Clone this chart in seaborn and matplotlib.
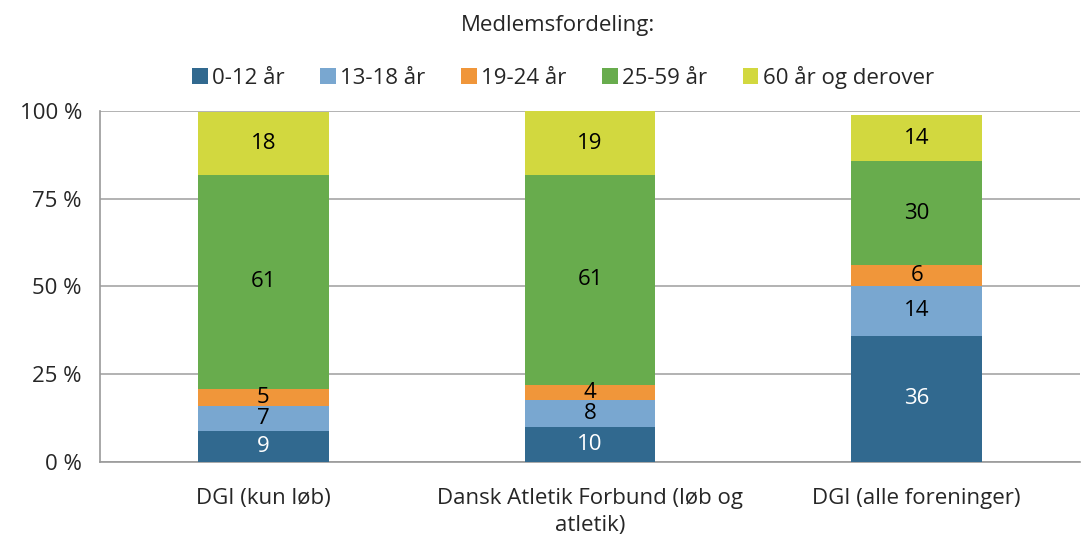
import numpy as np
import pandas as pd
import matplotlib
matplotlib.use("Agg")
import matplotlib.pyplot as plt
import seaborn as sns
from matplotlib.patches import Patch
from matplotlib.ticker import FixedLocator

# data (share of members, percent)
categories = ["DGI (kun løb)", "Dansk Atletik Forbund (løb og\natletik)", "DGI (alle foreninger)"]
age_groups = ["0-12 år", "13-18 år", "19-24 år", "25-59 år", "60 år og derover"]
age_0_12 = [8.8, 9.9, 36.0]
age_13_18 = [7.1, 7.8, 14.1]
age_19_24 = [5.0, 4.3, 6.0]
age_25_59 = [60.8, 59.7, 29.6]
age_60_plus = [18.1, 18.3, 13.0]
# printed labels in the segments
labels_0_12 = [9, 10, 36]
labels_13_18 = [7, 8, 14]
labels_19_24 = [5, 4, 6]
labels_25_59 = [61, 61, 30]
labels_60_plus = [18, 19, 14]

colors = ["#31698F", "#79A7D0", "#F0963A", "#68AC4D", "#D2D83F"]
text_colors = ["white", "black", "black", "black", "black"]

series = [age_0_12, age_13_18, age_19_24, age_25_59, age_60_plus]
labels = [labels_0_12, labels_13_18, labels_19_24, labels_25_59, labels_60_plus]

sns.set_style("white")
plt.rcParams["font.family"] = ["Open Sans", "DejaVu Sans"]
FS = 16

fig = plt.figure(figsize=(10.83, 5.41), dpi=100)
ax = fig.add_axes([0.0923, 0.146, 0.905, 0.649])

vals = np.array(series)
cum = np.cumsum(vals, axis=0)
df = pd.DataFrame({"category": categories})

# stacked bars: draw cumulative totals from the top layer down
for i in reversed(range(len(age_groups))):
    df["total"] = cum[i]
    sns.barplot(data=df, x="category", y="total", color=colors[i], width=0.4,
                saturation=1, ax=ax, zorder=3, linewidth=0)

for i in range(len(age_groups)):
    for j in range(len(categories)):
        mid = cum[i][j] - vals[i][j] / 2
        ax.text(j, mid, str(labels[i][j]), ha="center", va="center",
                fontsize=FS, color=text_colors[i], zorder=5)

grey = "#9A9A9A"
ax.set_xlim(-0.5, 2.5)
ax.set_ylim(0, 100)
ax.set_yticks([0, 25, 50, 75, 100])
ax.set_yticklabels(["0 %", "25 %", "50 %", "75 %", "100 %"], fontsize=FS)
ax.set_xlabel("")
ax.set_ylabel("")
ax.set_xticks(range(len(categories)))
ax.set_xticklabels(categories, fontsize=FS, linespacing=1.35)
ax.xaxis.set_minor_locator(FixedLocator([-0.5, 0.5, 1.5, 2.5]))
ax.tick_params(axis="x", which="major", length=0, pad=19)
ax.tick_params(axis="x", which="minor", length=7, color=grey, width=1.2, direction="out")
ax.tick_params(axis="y", length=7, color=grey, width=1.2, direction="out", pad=6)
ax.yaxis.grid(True, color="#A6A6A6", linewidth=1.2, zorder=0)
ax.set_axisbelow(True)
for side in ["top", "right"]:
    ax.spines[side].set_visible(False)
for side in ["left", "bottom"]:
    ax.spines[side].set_color(grey)
    ax.spines[side].set_linewidth(1.2)

fig.text(0.515, 0.953, "Medlemsfordeling:", ha="center", va="center", fontsize=FS)

handles = [Patch(facecolor=c, edgecolor="none") for c in colors]
fig.legend(handles, age_groups, loc="center", bbox_to_anchor=(0.520, 0.857), ncol=5,
           frameon=False, fontsize=FS, handlelength=0.7, handleheight=0.7,
           handletextpad=0.2, columnspacing=1.6)

fig.savefig("out.png", dpi=100)
